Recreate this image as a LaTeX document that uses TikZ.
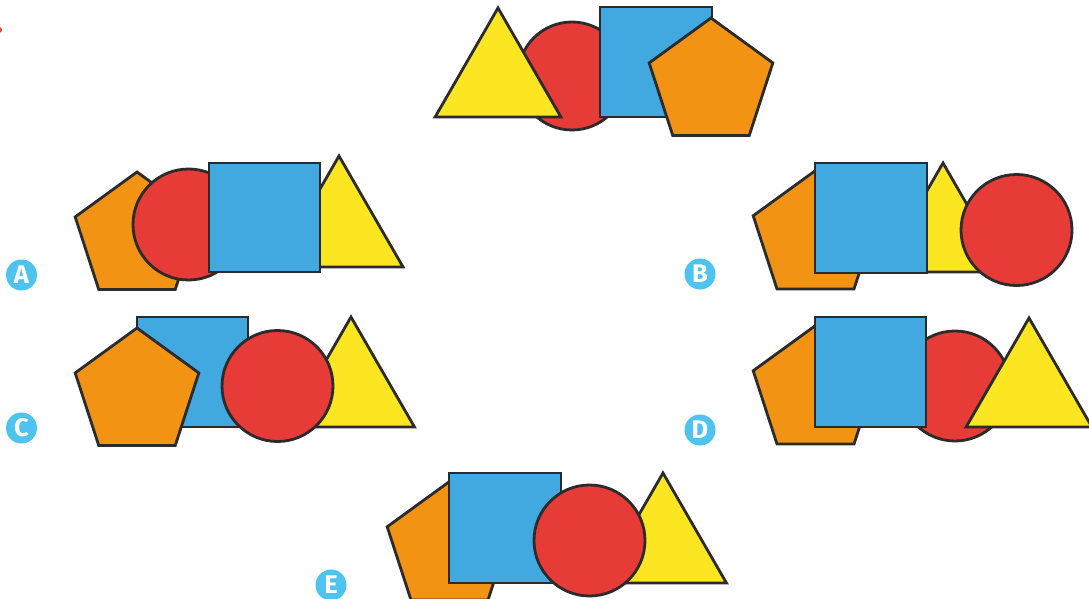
\documentclass[tikz,border=0pt]{standalone}
\usepackage{fontspec}
\newfontfamily\labfont{Fira Sans}
\definecolor{cyel}{HTML}{FCE621}
\definecolor{cred}{HTML}{E63B36}
\definecolor{cblu}{HTML}{41A9E0}
\definecolor{cora}{HTML}{F39314}
\definecolor{cout}{HTML}{2B2B2B}
\definecolor{clab}{HTML}{4EC3F0}
\tikzset{
  shp/.style={draw=cout,line width=2.8pt,line join=miter},
  yel/.style={shp,fill=cyel},
  red/.style={shp,fill=cred},
  blu/.style={shp,fill=cblu},
  ora/.style={shp,fill=cora},
  lab/.style={circle,fill=clab,minimum size=31pt,inner sep=0pt,text=white,font=\labfont\bfseries\fontsize{25.5}{25.5}\selectfont}
}
% pentagon: centre x, centre y, circumradius
\newcommand\penta[3]{\fill[ora] ({#1},{#2-#3}) -- ({#1+0.951*#3},{#2-0.309*#3}) -- ({#1+0.588*#3},{#2+0.809*#3}) -- ({#1-0.588*#3},{#2+0.809*#3}) -- ({#1-0.951*#3},{#2-0.309*#3}) -- cycle;}
% triangle: apex x, apex y, height
\newcommand\trian[3]{\fill[yel] ({#1},{#2}) -- ({#1+0.577*#3},{#2+#3}) -- ({#1-0.577*#3},{#2+#3}) -- cycle;}
\newcommand\circl[3]{\fill[red] (#1,#2) circle[radius=#3pt];}
\newcommand\squar[4]{\fill[blu] (#1,#2) rectangle (#3,#4);}
\begin{document}
\begin{tikzpicture}[x=1pt,y=-1pt]
\useasboundingbox (0,0) rectangle (1089,599);
\clip (0,0) rectangle (1089,599);
\fill[white] (0,0) rectangle (1089,599);
\fill[cred] (-1,30) circle[radius=3pt];
% top
\circl{572}{76}{54}
\trian{498}{8}{109}
\squar{600}{7}{712}{117}
\penta{711}{83}{65}
% A
\penta{137}{237}{65}
\circl{188.5}{224.5}{55.5}
\trian{339}{156}{111}
\squar{209}{163}{320}{272}
\node[lab] (labA) at (21.5,275) {A};
% B
\penta{815.5}{236}{65.5}
\trian{943}{163}{109}
\squar{815}{163}{927}{273}
\circl{1016.5}{230}{55.5}
\node[lab] (labB) at (700,274) {B};
% C
\squar{137}{317}{248}{427}
\penta{137}{393}{65}
\trian{351}{317}{110}
\circl{277.5}{386}{55.5}
\node[lab] (labC) at (21.5,428) {C};
% D
\penta{815.5}{391}{65.5}
\circl{955}{386}{55}
\squar{815}{317}{926}{427}
\trian{1029}{318}{109}
\node[lab] (labD) at (700,430) {D};
% E
\penta{449.5}{547}{65.5}
\squar{449}{473}{561}{583}
\trian{663}{473}{110}
\circl{589.5}{540.5}{55.5}
\node[lab] (labE) at (331,585) {E};
\end{tikzpicture}
\end{document}
